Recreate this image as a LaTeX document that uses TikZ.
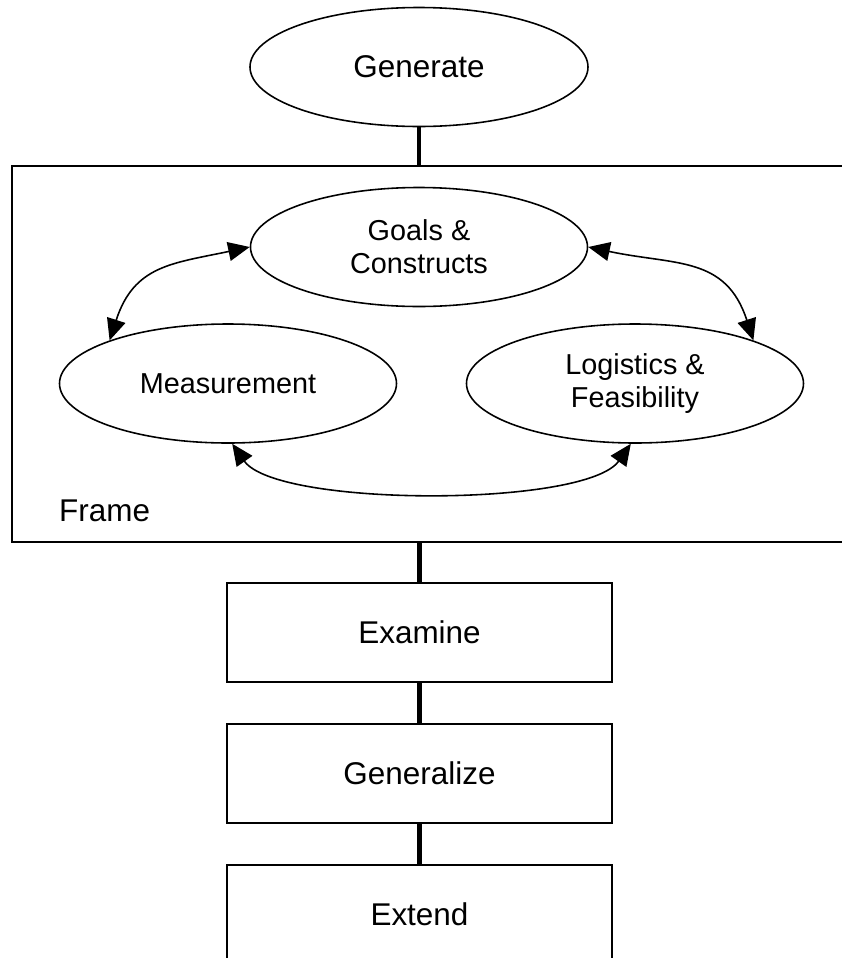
\documentclass[tikz,border=0pt]{standalone}
\usepackage{fontspec}
\setmainfont{Liberation Sans}
\usetikzlibrary{shapes.geometric, arrows.meta, positioning}

\begin{document}
\begin{tikzpicture}[
  stage/.style={ellipse, draw, line width=0.9pt, minimum width=6.76cm, minimum height=2.38cm, inner sep=0pt, align=center, font=\fontsize{17.9}{21}\selectfont},
  part/.style={ellipse, draw, line width=0.9pt, minimum width=6.74cm, minimum height=2.38cm, inner sep=0pt, align=center, font=\fontsize{16.4}{18.8}\selectfont},
  stepbox/.style={rectangle, draw, line width=1.1pt, minimum width=7.7cm, minimum height=1.98cm, font=\fontsize{17.9}{21}\selectfont},
  framebox/.style={rectangle, draw, line width=1.15pt, minimum width=16.86cm, minimum height=7.52cm},
  link/.style={line width=2.3pt},
  arr/.style={{Triangle[length=4.3mm,width=3.8mm]}-{Triangle[length=4.3mm,width=3.8mm]}, line width=0.9pt}
]
\useasboundingbox (0,0) rectangle (16.84,-19.16);
\node[stage] (generate) at (8.38,-1.34) {Generate};
% frame with its three parts
\node[framebox] (frame) at (8.67,-7.08) {};
\node[anchor=base west, font=\fontsize{17.9}{21}\selectfont] (framelbl) at ([xshift=0.84cm, yshift=0.44cm]frame.south west) {Frame};
\node[part] (goals) at (8.38,-4.94) {Goals \&\\Constructs};
\node[part] (meas) at (4.56,-7.67) {Measurement};
\node[part] (logi) at (12.7,-7.67) {Logistics \&\\Feasibility};
\draw[arr] (goals.west) to[out=192, in=72, looseness=1.2] (meas.160);
\draw[arr] (goals.east) to[out=-12, in=108, looseness=1.2] (logi.20);
\draw[arr] (meas.-86) to[out=-55, in=-125, looseness=0.5] (logi.-94);
% steps below the frame
\node[stepbox] (examine) at (8.39,-12.65) {Examine};
\node[stepbox, below=0.8cm of examine] (generalize) {Generalize};
\node[stepbox, below=0.8cm of generalize] (extend) {Extend};
\draw[link] (generate) -- (generate |- frame.north);
\draw[link] (examine |- frame.south) -- (examine);
\draw[link] (examine) -- (generalize);
\draw[link] (generalize) -- (extend);
\end{tikzpicture}
\end{document}
